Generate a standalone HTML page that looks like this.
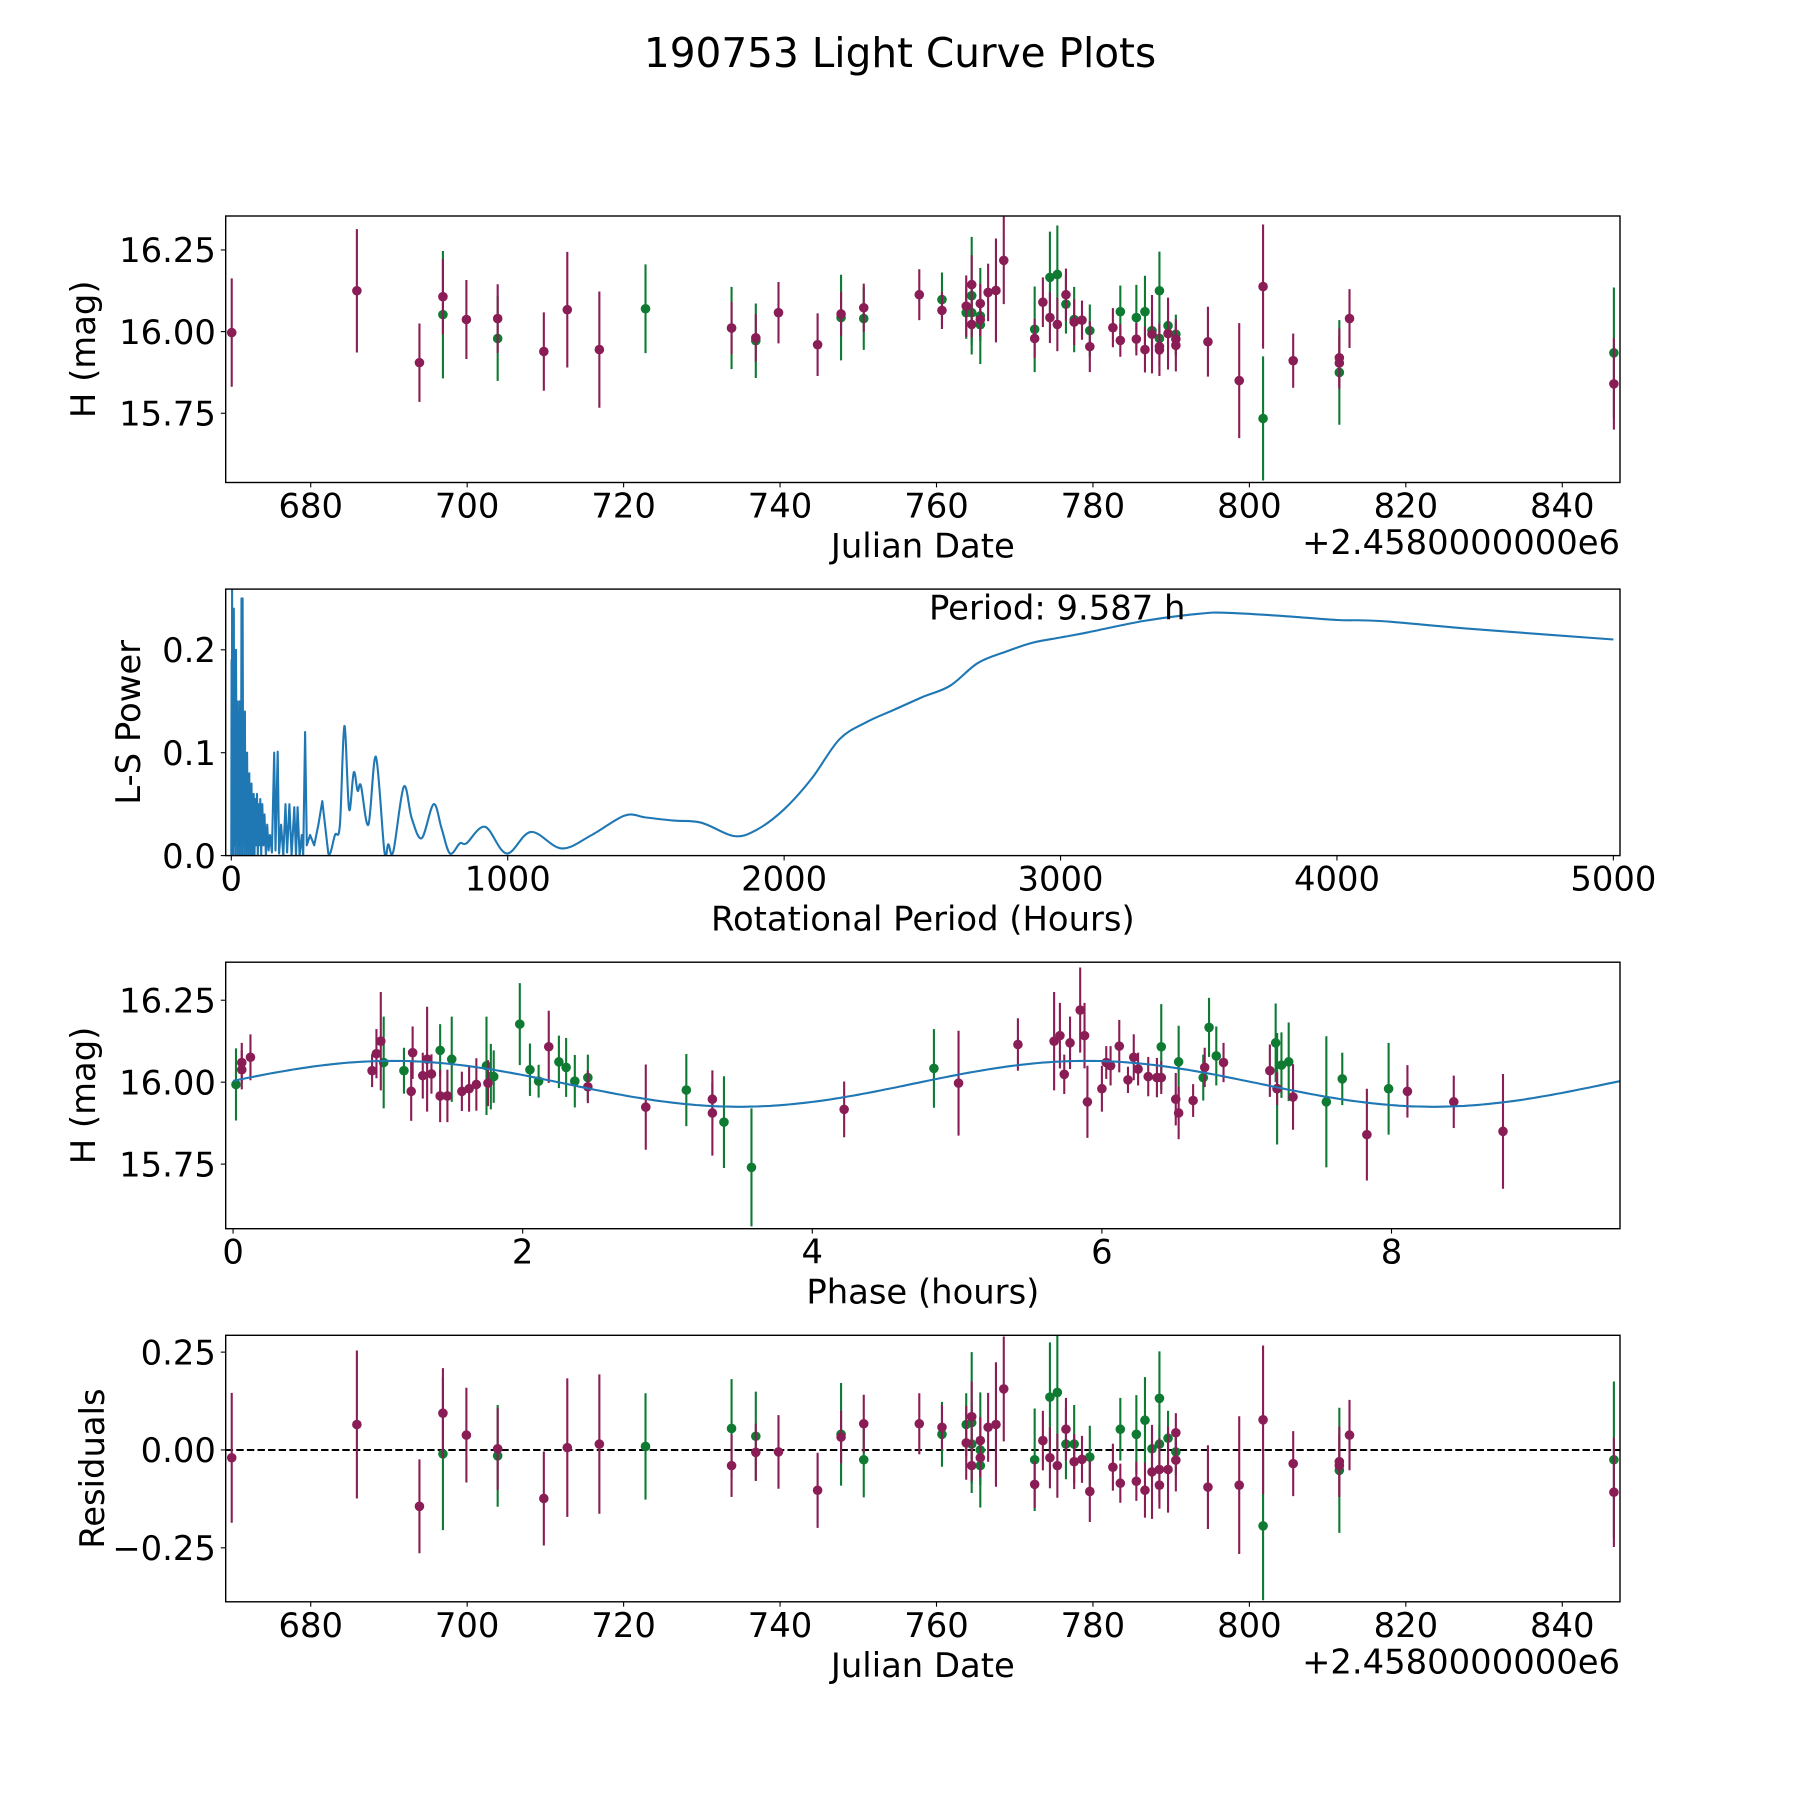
<!DOCTYPE html>
<html><head><meta charset="utf-8"><title>190753 Light Curve Plots</title>
<style>
html,body{margin:0;padding:0;background:#fff;}
svg{display:block;font-family:"DejaVu Sans","Liberation Sans",sans-serif;}
</style></head>
<body>
<svg id="fig" width="1800" height="1800" viewBox="0 0 1800 1800" xmlns="http://www.w3.org/2000/svg">
<rect width="1800" height="1800" fill="#fff"/>
<text x="900" y="67" font-size="40.6" text-anchor="middle">190753 Light Curve Plots</text>
</svg>
<script>
// ---------- Panel 1: light curve vs Julian date ----------
const p1Jd=[669.9,685.9,693.9,696.9,696.9,699.9,703.9,703.9,709.8,712.8,716.9,722.8,733.8,733.8,736.9,736.9,739.8,744.8,747.8,747.8,750.7,750.7,757.8,760.7,760.7,763.8,763.8,764.5,764.5,764.5,764.5,765.6,765.6,765.6,765.6,766.6,767.6,768.6,772.55,772.55,773.6,774.5,774.5,775.45,775.45,776.55,776.55,777.6,777.6,778.6,779.6,779.6,782.55,783.5,783.5,785.55,785.55,786.65,786.65,787.55,787.55,788.5,788.5,788.5,788.5,789.6,789.6,790.6,790.6,790.6,794.7,798.7,801.75,801.75,805.6,811.5,811.5,811.5,812.8,846.6,846.6];
const p1Mag=[15.997,16.125,15.905,16.052,16.107,16.037,15.979,16.04,15.939,16.067,15.945,16.07,16.011,16.011,15.972,15.981,16.058,15.96,16.043,16.054,16.04,16.073,16.113,16.098,16.065,16.058,16.078,16.11,16.058,16.144,16.022,16.048,16.021,16.086,16.037,16.12,16.126,16.218,16.007,15.979,16.09,16.166,16.043,16.175,16.022,16.084,16.113,16.037,16.029,16.035,16.003,15.954,16.012,16.061,15.973,16.043,15.977,16.061,15.945,16.003,15.992,16.125,15.979,15.954,15.944,16.018,15.994,15.992,15.977,15.958,15.969,15.85,15.734,16.138,15.911,15.875,15.92,15.904,16.04,15.935,15.84];
const p1Err=[.166,.189,.12,.195,.115,.121,.13,.105,.12,.177,.178,.136,.126,.08,.114,.073,.094,.096,.131,.067,.096,.074,.078,.083,.057,.08,.094,.18,.1,.09,.04,.147,.05,.06,.05,.088,.159,.134,.131,.06,.076,.14,.078,.15,.082,.09,.08,.1,.07,.06,.08,.078,.06,.08,.05,.1,.05,.11,.07,.05,.12,.12,.05,.06,.08,.07,.11,.06,.05,.08,.107,.176,.19,.19,.083,.16,.09,.08,.09,.2,.14];
const p1Band=['m','m','m','g','m','m','g','m','m','m','m','g','g','m','g','m','m','m','g','m','g','m','m','g','m','g','m','g','g','m','m','g','g','m','m','m','m','m','g','m','m','g','m','g','m','g','m','g','m','m','g','m','m','g','m','g','m','g','m','g','m','g','g','m','m','g','m','g','m','m','m','m','g','m','m','g','m','m','m','g','m'];
const p1XTicks=[680,700,720,740,760,780,800,820,840];
const magTicks=[15.75,16.00,16.25];
const magTickLabels=['15.75','16.00','16.25'];

// ---------- Panel 2: Lomb-Scargle periodogram ----------
const lsPeriod=[0,1,2,3,4,5,7,9,11,13,15,17,19,21,23,25,27,29,31,33,35,37,39,41,43,45,47,49,51,53,55,57,59,61,63,65,67,69,71,73,75,77,79,81,84,87,90,93,96,99,102,105,108,112,116,120,125,130,135,140,147,155,160,168,173,180,188,196,202,210,218,228,234,240,247,255,260,267,273,285,300,315,329,351,375,393,409,426,443,457,469,496,523,554,568,586,624,653,689,732,761,791,827,851,918,996,1084,1195,1304,1424,1500,1600,1700,1818,1900,2000,2100,2200,2300,2400,2500,2600,2700,2800,2900,3000,3100,3300,3500,3600,3800,4000,4156,4500,5000];
const lsPower=[0.0,0.19,0.0,0.26,0.02,0.2,0.0,0.24,0.01,0.17,0.0,0.2,0.02,0.15,0.0,0.13,0.01,0.15,0.0,0.11,0.02,0.25,0.0,0.25,0.03,0.12,0.0,0.14,0.01,0.09,0.0,0.1,0.02,0.07,0.0,0.08,0.01,0.06,0.0,0.07,0.01,0.05,0.0,0.06,0.0,0.055,0.01,0.06,0.0,0.05,0.01,0.055,0.0,0.05,0.01,0.04,0.0,0.03,0.005,0.02,0.003,0.1,0.005,0.101,0.002,0.03,0.0,0.05,0.003,0.05,0.0,0.047,0.0,0.047,0.0,0.02,0.0,0.12,0.01,0.02,0.01,0.03,0.053,0.002,0.02,0.03,0.126,0.045,0.081,0.063,0.068,0.03,0.096,0.004,0.011,0.004,0.067,0.036,0.017,0.05,0.026,0.002,0.012,0.012,0.028,0.002,0.023,0.007,0.02,0.039,0.037,0.034,0.032,0.019,0.025,0.045,0.075,0.113,0.13,0.142,0.154,0.165,0.187,0.198,0.207,0.212,0.217,0.228,0.235,0.236,0.233,0.229,0.228,0.22,0.21];
const lsXTicks=[0,1000,2000,3000,4000,5000];
const lsYTicks=[0.0,0.1,0.2];
const lsYTickLabels=['0.0','0.1','0.2'];

// ---------- Panel 3: phase-folded ----------
const p3Phase=[0.02,0.06,0.06,0.12,0.96,0.99,1.02,1.04,1.18,1.23,1.24,1.31,1.34,1.37,1.43,1.43,1.48,1.51,1.58,1.63,1.68,1.75,1.76,1.78,1.80,1.98,2.05,2.11,2.18,2.25,2.30,2.36,2.45,2.45,2.85,3.13,3.31,3.31,3.39,3.58,4.22,4.84,5.01,5.42,5.67,5.71,5.74,5.78,5.85,5.88,5.90,6.00,6.03,6.06,6.12,6.18,6.22,6.25,6.32,6.38,6.41,6.41,6.51,6.53,6.53,6.63,6.70,6.71,6.74,6.79,6.84,7.16,7.20,7.21,7.21,7.24,7.29,7.32,7.55,7.66,7.83,7.98,8.11,8.43,8.77];
const p3Mag=[15.993,16.038,16.06,16.076,16.035,16.087,16.125,16.06,16.035,15.972,16.09,16.02,16.07,16.025,16.097,15.958,15.958,16.07,15.972,15.98,15.993,16.05,15.997,16.017,16.017,16.177,16.038,16.003,16.108,16.062,16.045,16.003,16.014,15.986,15.924,15.976,15.948,15.906,15.878,15.74,15.917,16.042,15.997,16.115,16.125,16.142,16.024,16.12,16.22,16.142,15.94,15.98,16.06,16.05,16.11,16.007,16.076,16.04,16.017,16.014,16.108,16.014,15.948,16.062,15.906,15.944,16.014,16.045,16.167,16.08,16.06,16.035,16.12,15.98,15.98,16.052,16.062,15.955,15.94,16.01,15.84,15.98,15.972,15.94,15.85];
const p3Err=[.11,.06,.06,.07,.05,.075,.15,.14,.07,.09,.08,.07,.16,.06,.08,.08,.08,.13,.06,.07,.08,.15,.07,.1,.08,.125,.08,.05,.11,.08,.09,.08,.07,.05,.13,.11,.05,.13,.14,.18,.085,.12,.16,.08,.15,.1,.06,.08,.13,.1,.11,.07,.05,.06,.08,.04,.07,.05,.06,.06,.13,.05,.08,.11,.08,.05,.07,.06,.09,.09,.06,.08,.12,.05,.17,.1,.12,.1,.2,.08,.14,.14,.08,.08,.175];
const p3Band=['g','m','m','m','m','m','m','g','g','m','m','m','m','m','g','m','m','g','m','m','m','g','m','g','g','g','g','g','m','g','g','g','g','m','m','g','m','m','g','g','m','g','m','m','m','m','m','m','m','m','m','m','m','m','m','m','m','m','m','m','g','m','m','g','m','m','g','m','g','g','m','m','g','m','g','g','g','m','g','g','m','g','m','m','m'];
const fitPeriod=[9.587];
const fitMean=[15.995];
const fitAmp=[0.07];
const fitPeakPhase=[1.1];
const p3XTicks=[0,2,4,6,8];

// ---------- Panel 4: residuals ----------
const p4Jd=[669.9,685.9,693.9,696.9,696.9,699.9,703.9,703.9,709.8,712.8,716.9,722.8,733.8,733.8,736.9,736.9,739.8,744.8,747.8,747.8,750.7,750.7,757.8,760.7,760.7,763.8,763.8,764.5,764.5,764.5,764.5,765.6,765.6,765.6,765.6,766.6,767.6,768.6,772.55,772.55,773.6,774.5,774.5,775.45,775.45,776.55,776.55,777.6,777.6,778.6,779.6,779.6,782.55,783.5,783.5,785.55,785.55,786.65,786.65,787.55,787.55,788.5,788.5,788.5,788.5,789.6,789.6,790.6,790.6,790.6,794.7,798.7,801.75,801.75,805.6,811.5,811.5,811.5,812.8,846.6,846.6];
const p4Res=[-0.02,0.065,-0.144,-0.01,0.094,0.038,-0.015,0.003,-0.124,0.006,0.015,0.009,0.055,-0.04,0.035,-0.006,-0.005,-0.103,0.04,0.033,-0.025,0.067,0.067,0.04,0.058,0.065,0.018,0.07,0.015,0.085,-0.04,0.0,-0.04,0.024,-0.02,0.058,0.065,0.156,-0.025,-0.088,0.024,0.135,-0.02,0.147,-0.04,0.015,0.053,0.015,-0.03,-0.024,-0.018,-0.106,-0.044,0.053,-0.085,0.04,-0.08,0.076,-0.103,0.003,-0.056,0.132,0.015,-0.09,-0.05,0.03,-0.05,-0.005,0.044,-0.026,-0.095,-0.09,-0.194,0.077,-0.035,-0.052,-0.03,-0.04,0.038,-0.025,-0.108];
const p4Err=p1Err.slice();
const p4Band=p1Band.slice();
const resTicks=[-0.25,0.0,0.25];
const resTickLabels=['\u22120.25','0.00','0.25'];

// ---------- drawing helpers ----------
const NS='http://www.w3.org/2000/svg';
const svg=document.getElementById('fig');
const COL={m:'#8a1d55',g:'#0e7a32'};
const FS=33.8;
function mk(tag,attrs,parent){const e=document.createElementNS(NS,tag);for(const k in attrs)e.setAttribute(k,attrs[k]);(parent||svg).appendChild(e);return e;}
function scale(d0,d1,p0,p1){return v=>p0+(v-d0)/(d1-d0)*(p1-p0);}

function axes(name,box,xd,yd,xt,xtl,yt,ytl,xlabel,ylabel,ylabX,offset){
  const g=mk('g',{});
  
  
  const sx=scale(xd[0],xd[1],box.l,box.r), sy=scale(yd[0],yd[1],box.b,box.t);
  const clipId=name+'-clip';
  const cp=mk('clipPath',{id:clipId},g);mk('rect',{x:box.l,y:box.t,width:box.r-box.l,height:box.b-box.t},cp);
  const plot=mk('g',{'clip-path':'url(#'+clipId+')'},g);
  
  
  xt.forEach((v,i)=>{const x=sx(v);
    mk('line',{x1:x,x2:x,y1:box.b,y2:box.b+4.9,stroke:'#000','stroke-width':1.1},g);
    const t=mk('text',{x:x,y:box.b+35,'font-size':FS,'text-anchor':'middle'},g);t.textContent=xtl[i];
    
    });
  yt.forEach((v,i)=>{const y=sy(v);
    mk('line',{x1:box.l-4.9,x2:box.l,y1:y,y2:y,stroke:'#000','stroke-width':1.1},g);
    const t=mk('text',{x:box.l-9.8,y:y+12.2,'font-size':FS,'text-anchor':'end'},g);t.textContent=ytl[i];
    
    });
  const xl=mk('text',{x:(box.l+box.r)/2,y:box.b+75,'font-size':FS,'text-anchor':'middle'},g);xl.textContent=xlabel;
  
  
  const cy=(box.t+box.b)/2;
  const yl=mk('text',{x:ylabX,y:cy,'font-size':FS,'text-anchor':'middle',transform:'rotate(-90 '+ylabX+' '+cy+')'},g);yl.textContent=ylabel;
  
  
  if(offset){const o=mk('text',{x:box.r,y:box.b+71.5,'font-size':FS,'text-anchor':'end'},g);o.textContent=offset;
    
    }
  return {g,plot,sx,sy,box};
}
function frame(a,name){const r=mk('rect',{x:a.box.l,y:a.box.t,width:a.box.r-a.box.l,height:a.box.b-a.box.t,fill:'none',stroke:'#000','stroke-width':1.4},a.g);
  
  }
function errorbars(a,xs,ys,es,bands,name){
  ['g','m'].forEach(b=>{
    xs.forEach((xv,i)=>{ if(bands[i]!==b)return;
      const x=a.sx(xv);
      const ln=mk('line',{x1:x,x2:x,y1:a.sy(ys[i]-es[i]),y2:a.sy(ys[i]+es[i]),stroke:COL[b],'stroke-width':2.1},a.plot);
      
      
      const c=mk('circle',{cx:x,cy:a.sy(ys[i]),r:4.8,fill:COL[b]},a.plot);
      
      
    });
  });
}
const L=225.7,R=1620;
const jdLabels=p1XTicks.map(String);
const OFF='+2.4580000000e6';

// Panel 1
const a1=axes('light-curve',{l:L,r:R,t:216,b:482.5},[669.13,847.38],[15.538,16.354],p1XTicks,jdLabels,magTicks,magTickLabels,'Julian Date','H (mag)',95,OFF);
errorbars(a1,p1Jd,p1Mag,p1Err,p1Band,'light-curve');
frame(a1,'light-curve');

// Panel 2
const a2=axes('periodogram',{l:L,r:R,t:589.1,b:855.6},[-20.3,5024],[0,0.259],lsXTicks,lsXTicks.map(String),lsYTicks,lsYTickLabels,'Rotational Period (Hours)','L-S Power',140,null);
(function(){
  const P=lsPeriod.map((p,i)=>[a2.sx(p),a2.sy(lsPower[i])]);
  let d='M'+P[0][0].toFixed(1)+','+P[0][1].toFixed(1);
  for(let i=1;i<P.length;i++){
    if(lsPeriod[i-1]<351){d+=' L'+P[i][0].toFixed(1)+','+P[i][1].toFixed(1);continue;}
    const p0=P[i-2]||P[i-1],p1=P[i-1],p2=P[i],p3=P[i+1]||P[i];
    const c1=[p1[0]+(p2[0]-p0[0])/6,p1[1]+(p2[1]-p0[1])/6];
    const c2=[p2[0]-(p3[0]-p1[0])/6,p2[1]-(p3[1]-p1[1])/6];
    d+=' C'+c1[0].toFixed(1)+','+c1[1].toFixed(1)+' '+c2[0].toFixed(1)+','+c2[1].toFixed(1)+' '+p2[0].toFixed(1)+','+p2[1].toFixed(1);
  }
  const ls=mk('path',{d:d,fill:'none',stroke:'#1f77b4','stroke-width':2.1,'stroke-linejoin':'round'},a2.plot);
  
  
})();
frame(a2,'periodogram');
const pt=mk('text',{x:929,y:619.6,'font-size':FS},a2.g);pt.textContent='Period: '+fitPeriod[0].toFixed(3)+' h';



// Panel 3
const a3=axes('phase-fold',{l:L,r:R,t:962.2,b:1228.7},[-0.051,9.578],[15.553,16.366],p3XTicks,p3XTicks.map(String),magTicks,magTickLabels,'Phase (hours)','H (mag)',95,null);
errorbars(a3,p3Phase,p3Mag,p3Err,p3Band,'phase-fold');
const fitPts=[];
for(let k=0;k<=300;k++){const ph=fitPeriod[0]*k/300;
  const m=fitMean[0]+fitAmp[0]*Math.cos(2*Math.PI*2*(ph-fitPeakPhase[0])/fitPeriod[0]);
  fitPts.push(a3.sx(ph).toFixed(1)+','+a3.sy(m).toFixed(1));}
const fl=mk('polyline',{points:fitPts.join(' '),fill:'none',stroke:'#1f77b4','stroke-width':2.1},a3.plot);


frame(a3,'phase-fold');

// Panel 4
const a4=axes('residuals',{l:L,r:R,t:1335.3,b:1601.8},[669.13,847.38],[-0.388,0.293],p1XTicks,jdLabels,resTicks,resTickLabels,'Julian Date','Residuals',104,OFF);
const zl=mk('line',{x1:L,x2:R,y1:a4.sy(0),y2:a4.sy(0),stroke:'#000','stroke-width':2,'stroke-dasharray':'7.4,3.2'},a4.plot);


errorbars(a4,p4Jd,p4Res,p4Err,p4Band,'residuals');
frame(a4,'residuals');
</script>
</body></html>
